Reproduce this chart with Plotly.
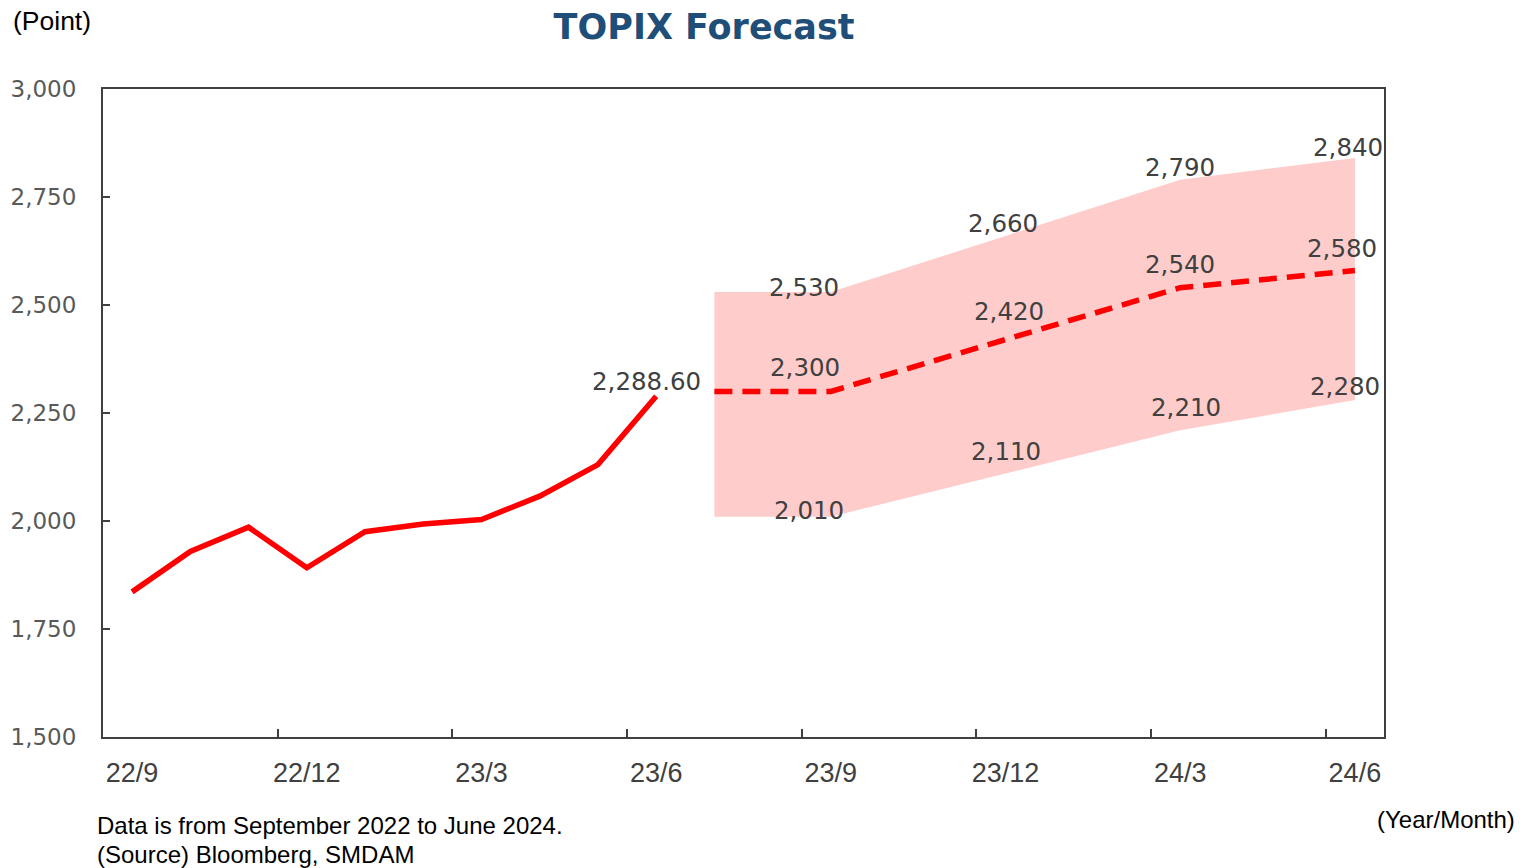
import plotly.graph_objects as go

months = ["22/9", "22/10", "22/11", "22/12", "23/1", "23/2", "23/3", "23/4", "23/5", "23/6",
          "23/7", "23/8", "23/9", "23/10", "23/11", "23/12", "24/1", "24/2", "24/3", "24/4",
          "24/5", "24/6"]
actual_months = ["22/9", "22/10", "22/11", "22/12", "23/1", "23/2", "23/3", "23/4", "23/5", "23/6"]
actual_values = [1835.94, 1929.43, 1985.57, 1891.71, 1975.27, 1993.28, 2003.50, 2057.48, 2130.63, 2288.60]
forecast_months = ["23/7", "23/9", "23/12", "24/3", "24/6"]
forecast_upper = [2530, 2530, 2660, 2790, 2840]
forecast_mid = [2300, 2300, 2420, 2540, 2580]
forecast_lower = [2010, 2010, 2110, 2210, 2280]
label_months = ["23/9", "23/12", "24/3", "24/6"]

RED = "#FF0000"
BAND = "#FFCCCC"
AXIS = "#404040"
TXT = "#404040"

fig = go.Figure()
# invisible full category trace to fix the category order
fig.add_trace(go.Scatter(x=months, y=[None] * len(months), mode="lines",
                         showlegend=False, hoverinfo="skip"))
fig.add_trace(go.Scatter(x=forecast_months, y=forecast_lower, mode="lines",
                         line=dict(width=0, color=BAND), showlegend=False, hoverinfo="skip"))
fig.add_trace(go.Scatter(x=forecast_months, y=forecast_upper, mode="lines", fill="tonexty",
                         fillcolor=BAND, line=dict(width=0, color=BAND), showlegend=False))
fig.add_trace(go.Scatter(x=forecast_months, y=forecast_mid, mode="lines",
                         line=dict(color=RED, width=5.5, dash="18px,10px"), showlegend=False))
fig.add_trace(go.Scatter(x=actual_months, y=actual_values, mode="lines",
                         line=dict(color=RED, width=5.5), showlegend=False))

def fmt(v):
    return f"{v:,.2f}" if v != int(v) else f"{int(v):,}"

ann = []
lab_font = dict(family="DejaVu Sans", size=24.5, color=TXT)
# last actual point label
ann.append(dict(x=actual_months[-1], y=actual_values[-1], text=fmt(actual_values[-1]),
                showarrow=False, xshift=-10, yshift=15, font=lab_font))
shifts_upper = [(-27, 5), (-3, 12), (0, 12), (-7, 11)]
shifts_mid = [(-26, 24), (3, 28), (0, 23), (-13, 22)]
shifts_lower = [(-22, 6), (0, 22), (6, 23), (-10, 14)]
for series, shifts in ((forecast_upper, shifts_upper), (forecast_mid, shifts_mid),
                       (forecast_lower, shifts_lower)):
    for m, (dx, dy) in zip(label_months, shifts):
        v = series[forecast_months.index(m)]
        ann.append(dict(x=m, y=v, text=fmt(v), showarrow=False, xshift=dx, yshift=dy,
                        font=lab_font))

note_font = dict(family="Liberation Sans, Arial, sans-serif", size=24, color="#000000")
ann.append(dict(xref="paper", yref="paper", x=-0.072, y=1.105, xanchor="left", yanchor="middle",
                text="(Point)", showarrow=False,
                font=dict(family="Liberation Sans, Arial, sans-serif", size=26.5, color="#000000")))
ann.append(dict(xref="paper", yref="paper", x=-0.006, y=-0.137, xanchor="left", yanchor="middle",
                text="Data is from September 2022 to June 2024.", showarrow=False, font=note_font))
ann.append(dict(xref="paper", yref="paper", x=-0.006, y=-0.182, xanchor="left", yanchor="middle",
                text="(Source) Bloomberg, SMDAM", showarrow=False, font=note_font))
ann.append(dict(xref="paper", yref="paper", x=1.1035, y=-0.128, xanchor="right", yanchor="middle",
                text="(Year/Month)", showarrow=False, font=note_font))

fig.update_layout(
    width=1524, height=868,
    margin=dict(l=103, r=140, t=89, b=131, autoexpand=False),
    paper_bgcolor="white", plot_bgcolor="white",
    title=dict(text="<b>TOPIX Forecast</b>", x=0.462, xanchor="center", y=0.969, yanchor="middle",
               xref="container", yref="container",
               font=dict(family="DejaVu Sans", size=35, color="#1F4E79")),
    annotations=ann,
    showlegend=False,
)
fig.update_xaxes(type="category", categoryorder="array", categoryarray=months,
                 range=[-0.5, len(months) - 0.5], tickmode="linear", tick0=0, dtick=3,
                 tickson="boundaries", ticks="inside", ticklen=8, tickwidth=2, tickcolor=AXIS,
                 showline=True, linecolor=AXIS, linewidth=2, mirror=True, showgrid=False,
                 tickangle=0, automargin=False,
                 tickfont=dict(family="Liberation Sans, Arial, sans-serif", size=27, color=TXT),
                 ticklabelstandoff=11)
fig.update_yaxes(range=[1500, 3000], tickmode="linear", tick0=1500, dtick=250, tickformat=",",
                 ticks="inside", ticklen=7, tickwidth=2, tickcolor=AXIS,
                 showline=True, linecolor=AXIS, linewidth=2, mirror=True, showgrid=False,
                 zeroline=False, automargin=False,
                 tickfont=dict(family="DejaVu Sans", size=23, color="#595959"),
                 ticklabelstandoff=20)

fig.write_html("out.html", config={"displayModeBar": False},
               post_script="document.body.style.margin='0';document.body.style.overflow='hidden';")
